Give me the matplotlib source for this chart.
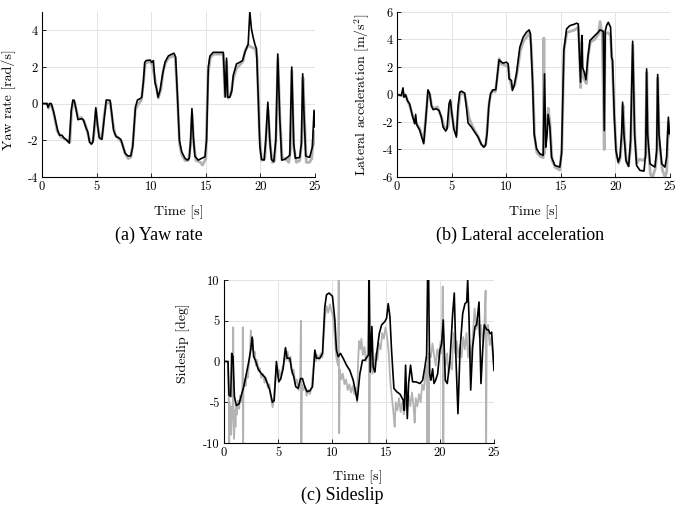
import matplotlib

matplotlib.use("Agg")

import matplotlib.pyplot as plt

plt.rcParams["mathtext.fontset"] = "cm"
plt.rcParams["axes.unicode_minus"] = False  # MATLAB-style hyphen minus

BLACK = "#000000"
GREY = "#b3b3b3"
GRID = "#e3e3e3"

# ---- (a) yaw rate [rad/s] ----
yaw_t = [0, 0.46, 0.55, 0.7, 0.85, 1.07, 1.43, 1.61, 1.83, 1.98, 2.28, 2.5, 2.68, 2.83, 2.95,
         3.14, 3.29, 3.65, 3.8, 4.05, 4.2, 4.35, 4.54, 4.66, 4.81, 4.93, 5.09, 5.24, 5.48, 5.63,
         5.79, 5.88, 6.24, 6.39, 6.55, 6.79, 7.0, 7.22, 7.4, 7.61, 7.86, 8.13, 8.31, 8.43, 8.56,
         8.74, 8.98, 9.14, 9.29, 9.41, 9.53, 9.9, 10.05, 10.2, 10.35, 10.5, 10.63, 10.81, 11.05,
         11.27, 11.57, 11.88, 12.09, 12.24, 12.42, 12.58, 12.79, 13.09, 13.31, 13.49, 13.61,
         13.73, 13.86, 14.0, 14.31, 14.62, 14.92, 15.07, 15.23, 15.38, 15.68, 16.6, 16.66,
         16.78, 16.9, 17.0, 17.2, 17.39, 17.51, 17.81, 18.12, 18.36, 18.58, 18.88, 19.03,
         19.18, 19.34, 19.49, 19.64, 19.79, 19.95, 20.1, 20.34, 20.49, 20.68, 20.86, 21.01,
         21.22, 21.41, 21.59, 21.77, 21.95, 22.23, 22.53, 22.69, 22.87, 23.05, 23.2, 23.6,
         23.75, 23.87, 24.0, 24.15, 24.51, 24.76, 24.91, 25.0]
yaw_model = [0, 0, -0.2, 0, 0, -0.45, -1.45, -1.72, -1.72, -1.85, -2.0, -2.15, -0.37, 0.2, 0.18,
             -0.36, -0.87, -0.82, -0.9, -1.35, -1.55, -2.1, -2.2, -2.1, -1.1, -0.22, -1.18, -1.85,
             -1.95, -1.18, -0.33, 0.2, 0.18, -0.55, -1.45, -1.8, -1.85, -1.95, -2.3, -2.7, -2.85,
             -2.85, -2.35, -1.27, -0.18, 0.2, 0.27, 0.35, 1.25, 2.25, 2.35, 2.38, 2.25, 2.35,
             1.15, 0.8, 0.35, 0.73, 1.63, 2.27, 2.6, 2.7, 2.75, 2.53, 0.18, -2.0, -2.62, -2.98,
             -3.08, -2.98, -2.0, -0.27, -1.82, -2.87, -3.08, -2.98, -2.9, -2.0, 2.0, 2.6, 2.8,
             2.8, 2.0, 0.36, 2.48, 0.35, 0.35, 0.73, 1.54, 2.17, 2.26, 2.35, 2.8, 3.25, 5.0,
             4.07, 3.6, 3.25, 2.98, 0.54, -2.35, -3.04, -3.08, -2.0, 0.08, -2.0, -3.04, -3.17,
             -2.0, 2.71, -0.73, -3.08, -3.04, -2.9, -2.81, 2.0, -2.17, -2.98, -2.93, -2.17, 1.63,
             -0.72, -2.86, -2.93, -2.35, -0.36, -1.27]
yaw_meas_t = [0, 0.5, 0.6, 0.75, 0.9, 1.1, 1.4, 1.7, 2.0, 2.3, 2.55, 2.7, 2.85, 3.0, 3.2, 3.35,
              3.6, 3.85, 4.1, 4.3, 4.5, 4.7, 4.95, 5.1, 5.3, 5.5, 5.7, 5.9, 6.25, 6.45, 6.7, 7.0,
              7.3, 7.6, 7.9, 8.15, 8.35, 8.55, 8.8, 9.1, 9.3, 9.45, 9.9, 10.1, 10.3, 10.5, 10.65,
              10.9, 11.1, 11.3, 11.6, 12.0, 12.2, 12.4, 12.6, 12.8, 13.1, 13.4, 13.6, 13.75, 13.9,
              14.1, 14.5, 14.7, 15.0, 15.2, 15.4, 15.7, 16.6, 16.75, 16.9, 17.05, 17.3, 17.5, 17.8,
              18.1, 18.4, 18.6, 18.9, 19.1, 19.5, 19.7, 19.9, 20.1, 20.4, 20.55, 20.7, 20.9, 21.1,
              21.3, 21.45, 21.6, 21.8, 22.0, 22.3, 22.6, 22.75, 22.87, 23.05, 23.3, 23.6, 23.8,
              23.9, 24.05, 24.2, 24.5, 24.7, 24.9, 25.0]
yaw_meas = [0, 0, -0.25, 0, -0.1, -0.6, -1.5, -1.8, -1.9, -2.0, -2.1, -0.5, 0.1, 0.05, -0.5, -0.8,
            -0.75, -0.95, -1.4, -1.9, -2.2, -2.0, -0.4, -1.2, -1.9, -1.9, -0.6, 0.05, 0.05, -0.9,
            -1.7, -1.9, -2.1, -2.7, -3.0, -2.9, -2.0, -0.3, -0.05, 0.2, 1.2, 2.2, 2.3, 2.1, 1.5,
            0.8, 0.3, 0.8, 1.8, 2.2, 2.5, 2.6, 2.5, 0.5, -2.2, -2.8, -3.1, -3.1, -2.3, -0.6, -2.2,
            -3.1, -3.2, -3.35, -3.0, 1.5, 2.5, 2.7, 2.7, 0.4, 2.3, 0.3, 0.5, 1.3, 1.9, 2.1, 2.3,
            2.9, 3.2, 3.1, 3.0, 2.5, -1.5, -3.1, -3.0, -1.5, -0.3, -2.3, -3.2, -3.1, -1.5, 2.5,
            -1.0, -3.0, -3.0, -3.2, -2.5, 1.8, -2.4, -3.2, -3.1, -2.0, 1.4, -1.0, -3.2, -3.2,
            -3.0, -1.5, -2.2]

# ---- (b) lateral acceleration [m/s^2] ----
lat_t = [0, 0.4, 0.55, 0.64, 0.8, 0.95, 1.16, 1.4, 1.62, 1.71, 1.8, 2.08, 2.45, 2.63, 2.84, 3.0,
         3.15, 3.3, 3.6, 3.85, 4.06, 4.22, 4.46, 4.58, 4.77, 4.89, 5.01, 5.2, 5.44, 5.59, 5.75,
         5.9, 6.2, 6.36, 6.51, 6.82, 7.12, 7.43, 7.73, 7.95, 8.1, 8.25, 8.4, 8.56, 8.8, 9.05,
         9.17, 9.35, 9.57, 9.72, 10.02, 10.18, 10.27, 10.48, 10.57, 10.73, 10.94, 11.25, 11.55,
         11.86, 12.1, 12.22, 12.41, 12.56, 12.78, 13.08, 13.39, 13.51, 13.63, 13.75, 13.84, 14.0,
         14.15, 14.46, 14.91, 15.07, 15.28, 15.53, 15.83, 16.14, 16.44, 16.6, 16.69, 16.81,
         16.93, 16.99, 17.15, 17.3, 17.48, 17.67, 18.12, 18.43, 18.58, 18.89, 18.98, 19.07,
         19.19, 19.35, 19.56, 19.65, 19.74, 19.9, 20.05, 20.26, 20.42, 20.57, 20.66, 20.78,
         20.97, 21.21, 21.39, 21.58, 21.76, 21.94, 22.25, 22.62, 22.77, 22.86, 22.95, 23.17,
         23.62, 23.78, 23.87, 23.99, 24.24, 24.54, 24.69, 24.85, 24.94, 25.0]
lat_model = [0, -0.07, 0.48, -0.2, -0.02, -0.44, -0.68, -1.52, -2.13, -1.45, -2.18, -2.6, -3.58,
             -1.9, 0.34, 0.05, -0.8, -1.1, -1.04, -1.16, -1.65, -2.37, -2.66, -2.5, -0.68, -0.39,
             -1.28, -2.5, -3.1, -0.92, 0.17, 0.24, 0.1, -0.92, -2.08, -2.37, -2.74, -3.1, -3.63,
             -3.83, -3.7, -2.86, -0.92, 0.05, 0.34, 0.34, 1.26, 2.52, 2.35, 2.28, 2.35, 2.23, 1.14,
             1.02, 0.29, 0.65, 1.5, 3.44, 4.16, 4.53, 4.7, 4.41, 1.02, -2.86, -3.95, -4.31, -4.43,
             1.5, -3.83, -2.86, -1.45, -2.37, -4.55, -5.16, -5.28, -4.31, 3.2, 4.77, 5.01, 5.08,
             5.18, 5.13, 3.2, 0.9, 4.29, 1.99, 1.62, 1.07, 2.71, 3.92, 4.29, 4.53, 4.7, 4.6, -2.62,
             4.6, 5.01, 5.25, 4.89, 2.71, 2.47, -1.65, -4.07, -4.92, -4.55, -2.86, -0.56, -2.86,
             -4.79, -5.23, -3.34, 3.87, -2.86, -5.16, -5.52, -5.57, -4.31, 1.86, -2.86, -5.04,
             -5.28, -4.07, 1.45, -2.86, -5.04, -5.28, -4.55, -1.65, -2.86, -2.74]
lat_meas_t = [0, 0.5, 0.6, 0.8, 1.0, 1.2, 1.5, 1.8, 2.1, 2.45, 2.65, 2.85, 3.0, 3.2, 3.4, 3.7, 3.9,
              4.1, 4.3, 4.5, 4.7, 4.88, 5.0, 5.2, 5.45, 5.6, 5.8, 6.2, 6.4, 6.6, 6.8, 7.1, 7.4,
              7.7, 7.95, 8.15, 8.3, 8.45, 8.7, 9.0, 9.2, 9.35, 9.6, 10.0, 10.2, 10.3, 10.55, 10.8,
              11.0, 11.3, 11.6, 11.9, 12.15, 12.3, 12.45, 12.6, 12.8, 13.1, 13.4, 13.45, 13.5,
              13.7, 13.85, 14.0, 14.2, 14.5, 14.9, 15.1, 15.3, 15.55, 15.9, 16.3, 16.6, 16.7,
              16.82, 16.93, 17.0, 17.2, 17.35, 17.5, 17.7, 18.1, 18.45, 18.6, 18.8, 18.98, 19.05,
              19.3, 19.55, 19.7, 19.9, 20.1, 20.3, 20.45, 20.6, 20.7, 20.85, 21.0, 21.2, 21.4,
              21.6, 21.78, 21.95, 22.2, 22.5, 22.75, 22.87, 23.0, 23.2, 23.4, 23.65, 23.8, 23.88,
              24.0, 24.3, 24.55, 24.7, 24.85, 25.0]
lat_meas = [0, -0.1, 0.1, -0.1, -0.5, -0.9, -1.7, -2.1, -2.5, -3.4, -1.6, 0.2, 0.0, -0.9, -1.0,
            -0.9, -1.3, -1.7, -2.3, -2.5, -2.3, -0.5, -1.2, -2.3, -2.9, -1.2, 0.1, 0.0, -0.8, -1.7,
            -2.1, -2.6, -3.0, -3.6, -3.8, -3.6, -2.0, -0.5, 0.3, 0.2, 1.3, 2.6, 2.2, 2.1, 2.0, 1.2,
            0.4, 0.7, 1.6, 3.2, 3.9, 4.2, 4.5, 3.5, 0.5, -3.0, -4.2, -4.5, -4.6, 4.1, -4.3, -2.5,
            -1.0, -2.0, -4.8, -5.3, -5.5, -4.0, 3.3, 4.5, 4.6, 4.7, 4.9, 3.5, 0.5, 3.8, 1.5, 1.0,
            0.8, 2.8, 3.8, 4.0, 4.4, 5.3, 4.3, -4.0, 4.4, 4.5, 4.3, 2.5, -1.5, -4.4, -5.0, -4.6,
            -3.0, -0.8, -3.3, -4.9, -5.2, -3.8, 3.6, -3.0, -5.0, -4.7, -4.8, -4.6, 1.6, -3.5,
            -5.8, -6.0, -5.4, -4.3, 1.2, -3.2, -5.5, -6.0, -5.6, -2.0, -3.0]

# ---- (c) sideslip [deg] ----
slip_t = [0, 0.37, 0.46, 0.62, 0.71, 0.83, 0.96, 1.14, 1.39, 1.61, 1.82, 2.07, 2.32, 2.47, 2.6,
          2.75, 2.94, 3.15, 3.46, 3.77, 4.02, 4.23, 4.48, 4.64, 4.85, 5.07, 5.25, 5.47, 5.69,
          5.84, 6.09, 6.27, 6.46, 6.64, 6.86, 7.08, 7.26, 7.48, 7.69, 7.94, 8.19, 8.41, 8.56,
          8.87, 9.12, 9.33, 9.49, 9.73, 10.04, 10.26, 10.41, 10.57, 10.78, 11.03, 11.34, 11.65,
          11.96, 12.33, 12.58, 12.82, 13.04, 13.26, 13.38, 13.44, 13.54, 13.69, 13.81, 13.97,
          14.12, 14.37, 14.59, 14.89, 15.05, 15.2, 15.36, 15.51, 15.73, 15.98, 16.29, 16.59,
          16.69, 16.81, 16.97, 17.09, 17.27, 17.46, 17.77, 18.14, 18.39, 18.6, 18.76, 18.85,
          18.94, 19.04, 19.16, 19.31, 19.44, 19.59, 19.78, 19.99, 20.15, 20.3, 20.49, 20.67,
          20.92, 21.17, 21.32, 21.48, 21.66, 21.85, 22.1, 22.31, 22.47, 22.56, 22.68, 22.84,
          23.02, 23.24, 23.39, 23.61, 23.79, 23.95, 24.1, 24.32, 24.47, 24.63, 24.78, 25.0]
slip_model = [0, 0, -4.1, -4.3, 1.0, 0.6, -4.3, -5.4, -5.2, -4.1, -3.1, -1.5, 0.2, 1.4, 3.0, 0.6,
              0, -0.9, -1.5, -1.9, -2.7, -3.5, -5.0, -4.8, 0, -2.5, -2.1, -0.9, 1.7, 0.4, 0.4,
              -1.1, -1.9, -3.1, -3.3, -2.1, -2.1, -3.1, -3.7, -3.6, -3.1, 1.4, 0.4, 0.4, 1.0, 6.7,
              8.2, 8.4, 8.0, 5.1, 1.4, 0.6, 1.0, 0.4, -0.45, -1.1, -2.3, -4.75, -1.5, 0.15, 0.15,
              0.6, 0.8, 10.5, -1.3, 4.3, -0.65, -1.3, 0.8, 3.4, 4.5, 4.9, 5.3, 7.1, 5.5, 1.4,
              -3.3, -3.7, -4.0, -4.75, -6.0, -0.45, -7.0, -2.7, -0.45, -2.5, -2.5, -2.7, -2.3,
              -0.65, 0.8, 10.5, 10.5, -1.5, -2.3, -0.9, -2.7, -2.3, -1.5, 1.4, 2.2, 5.1, -2.3,
              -2.7, 0.15, 5.9, 8.4, 0.15, -6.4, 1.4, 5.9, 7.1, 7.3, 10.0, 5.5, -3.5, 1.8, 4.3,
              4.5, 7.3, -2.7, 1.4, 4.5, 3.9, 3.9, 3.4, 3.6, -1.1]
slip_meas_t = [0.00, 0.35, 0.42, 0.46, 0.48, 0.50, 0.55, 0.60, 0.66, 0.72, 0.80, 0.85, 0.88, 0.93,
               1.00, 1.06, 1.12, 1.20, 1.30, 1.40, 1.50, 1.60, 1.70, 1.74, 1.77, 1.80, 1.90, 2.00,
               2.10, 2.20, 2.30, 2.40, 2.48, 2.56, 2.65, 2.75, 2.85, 2.95, 3.05, 3.20, 3.30, 3.45,
               3.60, 3.75, 3.90, 4.05, 4.20, 4.35, 4.50, 4.62, 4.75, 4.85, 5.00, 5.10, 5.25, 5.40,
               5.55, 5.65, 5.75, 5.90, 6.00, 6.15, 6.30, 6.45, 6.60, 6.75, 6.90, 7.05, 7.12, 7.16,
               7.20, 7.35, 7.50, 7.65, 7.80, 7.95, 8.10, 8.25, 8.40, 8.50, 8.65, 8.80, 8.95, 9.10,
               9.20, 9.35, 9.50, 9.65, 9.80, 9.95, 10.10, 10.25, 10.40, 10.55, 10.62, 10.66,
               10.72, 10.85, 11.00, 11.15, 11.30, 11.45, 11.60, 11.75, 11.90, 12.05, 12.20, 12.32,
               12.40, 12.50, 12.60, 12.72, 12.85, 13.00, 13.15, 13.30, 13.42, 13.46, 13.50, 13.62,
               13.75, 13.90, 14.05, 14.20, 14.35, 14.50, 14.65, 14.80, 14.95, 15.10, 15.25, 15.40,
               15.55, 15.70, 15.80, 15.90, 16.05, 16.20, 16.35, 16.50, 16.65, 16.80, 16.95, 17.10,
               17.25, 17.40, 17.55, 17.65, 17.75, 17.90, 18.05, 18.20, 18.35, 18.50, 18.65, 18.78,
               18.82, 18.86, 18.95, 19.00, 19.15, 19.30, 19.45, 19.60, 19.75, 19.90, 20.05, 20.18,
               20.25, 20.30, 20.35, 20.50, 20.65, 20.80, 20.95, 21.10, 21.25, 21.40, 21.55, 21.70,
               21.85, 22.00, 22.15, 22.30, 22.45, 22.60, 22.75, 22.90, 23.05, 23.20, 23.35, 23.50,
               23.65, 23.80, 23.95, 24.10, 24.22, 24.27, 24.32, 24.45, 24.60, 24.75, 24.90, 25.00]
slip_meas = [0, 0, -3.5, -6, -10.5, -5, -8, -6.5, -9, -5.5, -7, 4.2, -7.5, -9.5, -6, -8, -5.5, -6.5,
             -4.8, -5.8, -4.2, -5.0, -3.5, 4.2, -10.5, -3.0, -2.2, -3.0, -1.5, -2.0, -0.5, 1.0, 3.8,
             1.5, 2.8, 0.5, 1.2, -0.5, 0.2, -1.2, -0.8, -2.0, -1.5, -2.6, -2.0, -3.2, -2.8, -4.5,
             -5.6, -4.5, -2.5, -0.5, -2.0, -1.0, -2.2, -0.8, -0.2, 1.5, 0.2, 1.2, 0.0, 0.6, -1.5,
             -1.0, -2.8, -2.2, -3.5, -2.5, 5.0, -10.5, -2.8, -3.5, -3.0, -4.2, -3.5, -4.0, -3.2,
             -1.0, 1.0, 0.0, 0.8, 0.2, 1.0, 0.5, 2.5, 5.5, 6.8, 6.0, 7.0, 6.2, 5.5, 3.0, 0.5, -0.5,
             10.5, -8.8, -1.0, -2.2, -1.5, -2.8, -2.2, -3.5, -2.8, -3.8, -3.0, -4.0, -3.2, -5.0,
             -0.5, 2.5, 1.5, 2.8, 0.8, 1.8, 0.0, 1.0, 10.5, -10.5, 1.5, 0.5, -1.5, -0.5, 1.0, 0.2,
             2.2, 1.5, 3.5, 2.8, 4.2, 3.0, 1.0, -2.5, -4.5, -6.5, -8.0, -5.0, -6.0, -4.5, -6.2,
             -5.0, -6.5, -4.5, -6.0, -4.2, -5.5, -3.8, -5.5, -7.5, -4.5, -5.5, -4.0, -5.0, -2.8,
             -3.5, -1.5, -0.5, -10.5, 0.5, -10.5, 1.0, 0.5, 2.2, 0.8, -0.5, 1.5, 0.5, 2.5, 1.0,
             9.2, -10.5, 0.5, -0.5, 1.0, -1.5, 0.0, -1.0, 3.5, 1.0, 2.5, 0.5, 2.0, 0.5, 3.0, 1.5,
             3.5, 0.5, 2.0, 0.0, 3.5, 6.5, 4.0, 5.0, 3.0, 4.5, 2.5, 4.0, 8.7, -10.5, 3.0, 4.5, 2.0,
             3.0, 0.5, -1.0]

time_ticks = [0, 5, 10, 15, 20, 25]

fig = plt.figure(figsize=(6.75, 5.12), dpi=100)
ax_a = fig.add_axes([0.0622, 0.6543, 0.4045, 0.3223])
ax_b = fig.add_axes([0.5881, 0.6543, 0.4045, 0.3223])
ax_c = fig.add_axes([0.3319, 0.1348, 0.4000, 0.3183])


def style(ax, ylim, yticks, ylabel, ylab_pos, xlab_pos):
    ax.set_xlim(0, 25)
    ax.set_ylim(*ylim)
    ax.set_xticks(time_ticks)
    ax.set_yticks(yticks)
    ax.grid(True, color=GRID, lw=0.7)
    ax.set_axisbelow(True)
    for side in ("top", "right"):
        ax.spines[side].set_visible(False)
    for side in ("left", "bottom"):
        ax.spines[side].set_linewidth(0.8)
    ax.tick_params(direction="in", length=3, width=0.6, labelsize=9, pad=3)
    for lab in ax.get_xticklabels() + ax.get_yticklabels():
        lab.set_family("cmr10")
    ax.set_xlabel("Time [s]", family="cmr10", fontsize=10)
    ax.set_ylabel(ylabel, family="cmr10", fontsize=10)
    ax.xaxis.set_label_coords(*xlab_pos)
    ax.yaxis.set_label_coords(*ylab_pos)


ax_a.plot(yaw_meas_t, yaw_meas, color=GREY, lw=2.0)
ax_a.plot(yaw_t, yaw_model, color=BLACK, lw=1.2)
style(ax_a, (-4, 5), [-4, -2, 0, 2, 4], "Yaw rate [rad/s]", (-0.095, 0.467), (0.5, -0.17))

ax_b.plot(lat_meas_t, lat_meas, color=GREY, lw=2.0)
ax_b.plot(lat_t, lat_model, color=BLACK, lw=1.2)
style(ax_b, (-6, 6), [-6, -4, -2, 0, 2, 4, 6], r"Lateral acceleration [m/s$^2$]",
      (-0.092, 0.5), (0.5, -0.17))

ax_c.plot(slip_meas_t, slip_meas, color=GREY, lw=1.3)
ax_c.plot(slip_t, slip_model, color=BLACK, lw=1.2)
style(ax_c, (-10, 10), [-10, -5, 0, 5, 10], "Sideslip [deg]", (-0.126, 0.61), (0.496, -0.17))

# subfigure captions
cap = dict(family="Liberation Serif", fontsize=13, ha="center", va="center")
fig.text(159 / 675, 1 - 235 / 512, "(a) Yaw rate", **cap)
fig.text(520 / 675, 1 - 235 / 512, "(b) Lateral acceleration", **cap)
fig.text(342 / 675, 1 - 495 / 512, "(c) Sideslip", **cap)

fig.savefig("out.png", dpi=100)
